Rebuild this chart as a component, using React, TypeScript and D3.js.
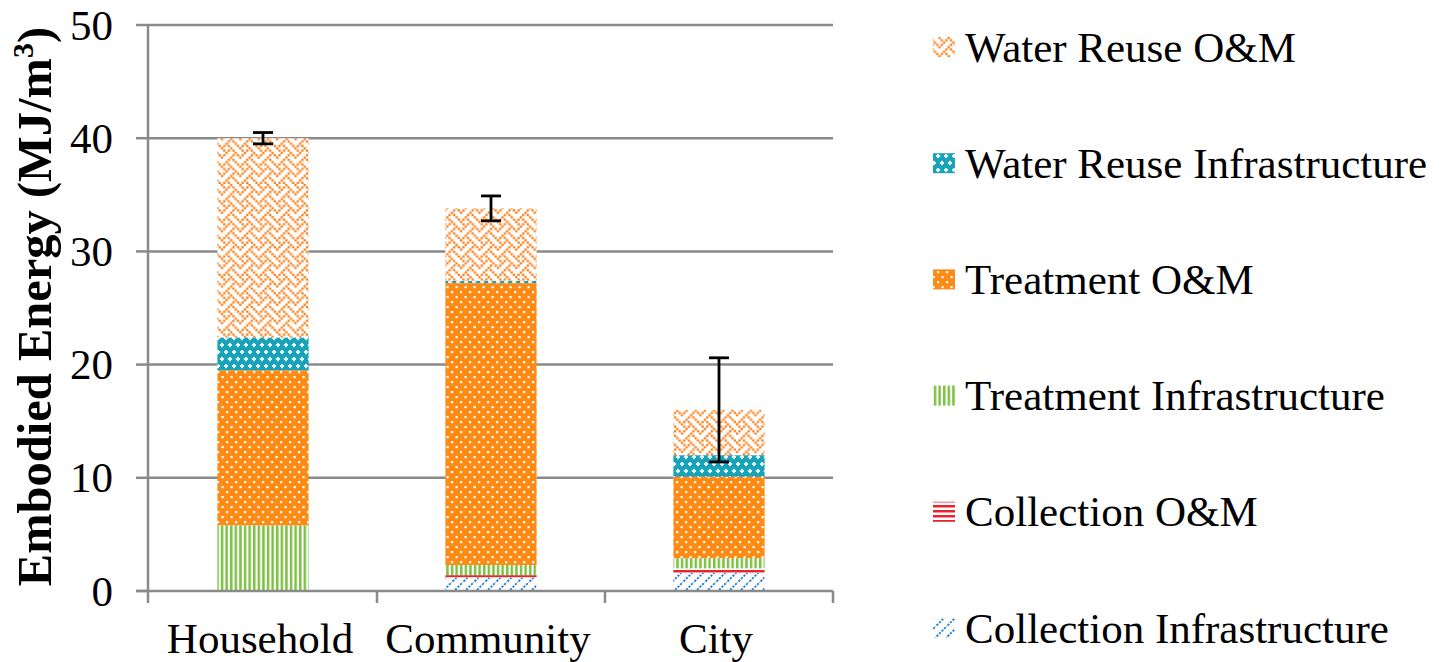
import React from 'react';
import * as d3 from 'd3';

// Stacked embodied energy by system scale (MJ/m3)
const categories = ['Household', 'Community', 'City'];
const seriesNames = [
  'Collection Infrastructure',
  'Collection O&M',
  'Treatment Infrastructure',
  'Treatment O&M',
  'Water Reuse Infrastructure',
  'Water Reuse O&M',
];
const collectionInfra = [0, 1.2, 1.6];
const collectionOM = [0, 0.2, 0.4];
const treatmentInfra = [5.8, 0.9, 0.9];
const treatmentOM = [13.7, 24.9, 7.2];
const reuseInfra = [2.9, 0.2, 1.9];
const reuseOM = [17.6, 6.4, 4.0];
const errorValues = [0.5, 1.1, 4.6];
const yTicks = [0, 10, 20, 30, 40, 50];

const seriesValues = [collectionInfra, collectionOM, treatmentInfra, treatmentOM, reuseInfra, reuseOM];

const W = 1441;
const H = 662;
const FONT = "'Liberation Serif', 'Times New Roman', serif";
const AXIS = '#8a8a8a';

const ORANGE = '#ff8a14';
const TEAL = '#17a2b8';
const GREEN = '#7cc242';
const RED = '#e8242c';
const BLUE = '#1f7fd6';

// 8x8 weave bitmap
const weave = ['10001000', '01010100', '00100010', '01000101', '10001000', '00010100', '00100010', '01010001'];

function Patterns() {
  const p = 2.3;
  return (
    <defs>
      <pattern id="pat-5" patternUnits="userSpaceOnUse" width={8 * p} height={8 * p}>
        <rect width={8 * p} height={8 * p} fill="#fff" />
        {weave.flatMap((row, r) =>
          row.split('').map((c, k) =>
            c === '1' ? <rect key={`${r}-${k}`} x={k * p} y={r * p} width={p} height={p} fill="#ff7f1a" /> : null
          )
        )}
      </pattern>
      <pattern id="pat-4" patternUnits="userSpaceOnUse" width={8} height={14}>
        <rect width={8} height={14} fill={TEAL} />
        {[[2, 2], [6, 9]].map(([cx, cy], i) => (
          <g key={i} fill="#fff">
            <rect x={cx - 0.8} y={cy - 2.2} width={1.6} height={4.4} />
            <rect x={cx - 2.2} y={cy - 0.8} width={4.4} height={1.6} />
          </g>
        ))}
      </pattern>
      <pattern id="pat-3" patternUnits="userSpaceOnUse" width={9} height={10}>
        <rect width={9} height={10} fill={ORANGE} />
        <rect x={1} y={1} width={2.2} height={2.2} fill="#fff" />
        <rect x={5.5} y={6} width={2.2} height={2.2} fill="#fff" />
      </pattern>
      <pattern id="pat-2" patternUnits="userSpaceOnUse" width={4.6} height={10}>
        <rect width={4.6} height={10} fill="#fff" />
        <rect x={0} y={0} width={2.5} height={10} fill={GREEN} />
      </pattern>
      <pattern id="pat-1" patternUnits="userSpaceOnUse" width={10} height={5}>
        <rect width={10} height={5} fill="#fff" />
        <rect x={0} y={0} width={10} height={2.5} fill={RED} />
      </pattern>
      <pattern id="pat-0" patternUnits="userSpaceOnUse" width={11} height={11}>
        <rect width={11} height={11} fill="#fff" />
        <line x1={-1} y1={12} x2={12} y2={-1} stroke={BLUE} strokeWidth={1.9} strokeDasharray="2.2 1.4" />
      </pattern>
    </defs>
  );
}

export default function App() {
  const y = d3.scaleLinear().domain([0, 50]).range([591, 25]);
  const x = d3.scaleBand<string>().domain(categories).range([149, 833]).paddingInner(0.6).paddingOuter(0.3);

  const rows = categories.map((c, i) => {
    const o: Record<string, number | string> = { category: c };
    seriesNames.forEach((s, j) => (o[s] = seriesValues[j][i]));
    return o;
  });
  const stacked = d3.stack<Record<string, number | string>>().keys(seriesNames)(rows as any);
  const totals = categories.map((_, i) => d3.sum(seriesValues, (s) => s[i]));

  const legendY = d3.scalePoint<string>().domain([...seriesNames].reverse()).range([47, 628]);
  const bw = x.bandwidth();
  const boundaries = [0, 1, 2, 3].map((i) => 149 + i * x.step());

  return (
    <svg width={W} height={H} style={{ position: 'absolute', left: 0, top: 0, background: '#fff' }} fontFamily={FONT}>
      <Patterns />
      {/* gridlines */}
      {yTicks.filter((t) => t > 0).map((t) => (
        <line key={t} x1={148} x2={833} y1={y(t)} y2={y(t)} stroke={AXIS} strokeWidth={2.5} />
      ))}
      {/* bars */}
      {stacked.map((layer, j) =>
        layer.map((d, i) => {
          const h = y(d[0]) - y(d[1]);
          if (h <= 0) return null;
          return (
            <rect key={`${j}-${i}`} x={x(categories[i])!} y={y(d[1])} width={bw} height={h} fill={`url(#pat-${j})`} />
          );
        })
      )}
      {/* axes */}
      <line x1={148} x2={148} y1={y(50)} y2={603} stroke={AXIS} strokeWidth={2.5} />
      <line x1={136} x2={833} y1={y(0)} y2={y(0)} stroke={AXIS} strokeWidth={2.5} />
      {yTicks.map((t) => (
        <g key={t}>
          <line x1={136} x2={148} y1={y(t)} y2={y(t)} stroke={AXIS} strokeWidth={2.5} />
          <text x={113} y={y(t)} textAnchor="end" dominantBaseline="central" fontSize={43} fill="#000">
            {t}
          </text>
        </g>
      ))}
      {boundaries.slice(1).map((bx, i) => (
        <line key={i} x1={bx} x2={bx} y1={y(0)} y2={603} stroke={AXIS} strokeWidth={2.5} />
      ))}
      {categories.map((c) => (
        <text key={c} x={x(c)! + bw / 2 - 3} y={653} textAnchor="middle" fontSize={43} fill="#000">
          {c}
        </text>
      ))}
      {/* error bars */}
      {categories.map((c, i) => {
        const cx = x(c)! + bw / 2;
        const lo = y(totals[i] - errorValues[i]);
        const hi = y(totals[i] + errorValues[i]);
        return (
          <g key={c} stroke="#000" strokeWidth={2.8}>
            <line x1={cx} x2={cx} y1={lo} y2={hi} />
            <line x1={cx - 10} x2={cx + 10} y1={lo} y2={lo} />
            <line x1={cx - 10} x2={cx + 10} y1={hi} y2={hi} />
          </g>
        );
      })}
      {/* axis title */}
      <text
        transform={`translate(51, ${(25 + 588) / 2}) rotate(-90)`}
        textAnchor="middle"
        fontSize={48.5}
        fontWeight="bold"
        fill="#000"
      >
        Embodied Energy (MJ/m<tspan fontSize={30} dy={-18}>3</tspan>
        <tspan dy={18}>)</tspan>
      </text>
      {/* legend */}
      {[...seriesNames].reverse().map((s) => {
        const j = seriesNames.indexOf(s);
        const ly = legendY(s)!;
        return (
          <g key={s}>
            <rect x={933} y={ly - 10} width={22} height={20} fill={`url(#pat-${j})`} />
            <text x={965} y={ly} dominantBaseline="central" fontSize={43} fill="#000">
              {s}
            </text>
          </g>
        );
      })}
    </svg>
  );
}
